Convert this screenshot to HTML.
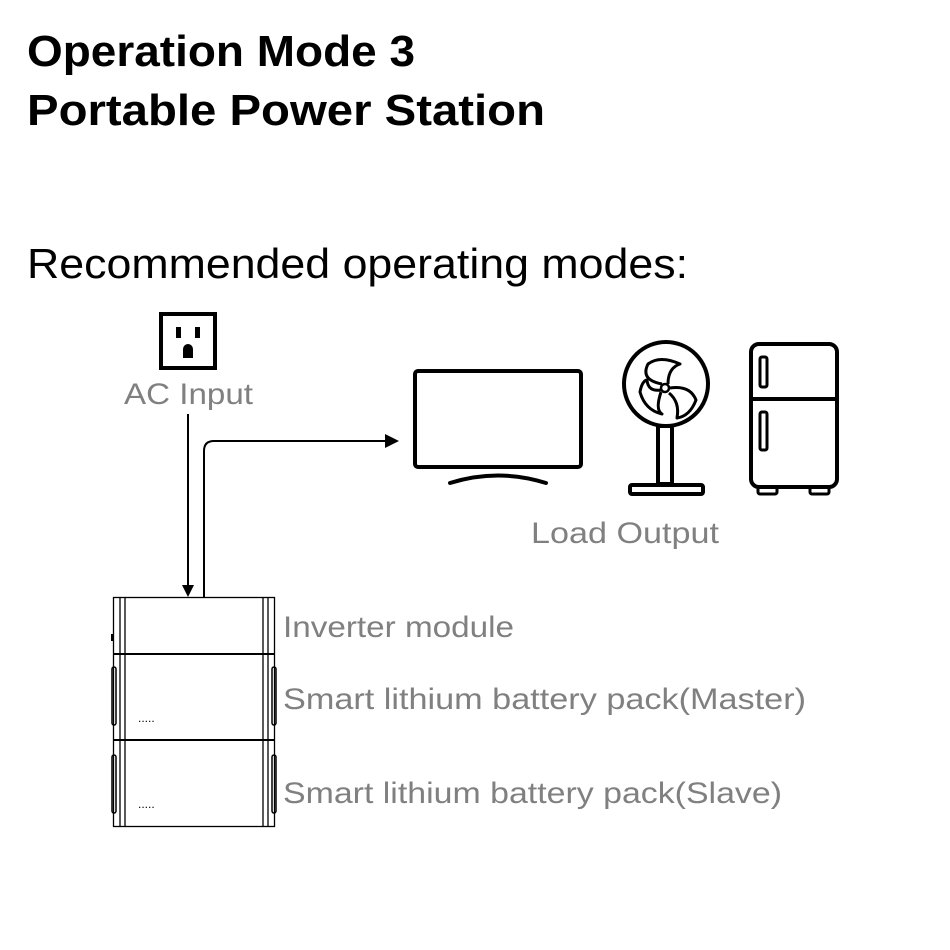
<!DOCTYPE html>
<html><head><meta charset="utf-8"><style>
html,body{margin:0;padding:0;background:#fff;}
svg{display:block;}
</style></head><body>
<svg width="950" height="950" viewBox="0 0 950 950" xmlns="http://www.w3.org/2000/svg">
<rect width="950" height="950" fill="#fff"/>
<g font-family="Liberation Sans, sans-serif">
<text x="27" y="66" font-size="44" font-weight="bold" textLength="388" lengthAdjust="spacingAndGlyphs" fill="#000">Operation Mode 3</text>
<text x="27" y="125" font-size="44" font-weight="bold" textLength="518" lengthAdjust="spacingAndGlyphs" fill="#000">Portable Power Station</text>
<text x="27" y="278" font-size="42" textLength="661" lengthAdjust="spacingAndGlyphs" fill="#000">Recommended operating modes:</text>
<g fill="#808080" font-size="30">
<text x="124" y="404" textLength="129" lengthAdjust="spacingAndGlyphs">AC Input</text>
<text x="531" y="543" textLength="188" lengthAdjust="spacingAndGlyphs">Load Output</text>
<text x="283" y="637" textLength="231" lengthAdjust="spacingAndGlyphs">Inverter module</text>
<text x="283" y="709" textLength="523" lengthAdjust="spacingAndGlyphs">Smart lithium battery pack(Master)</text>
<text x="283" y="803" textLength="499" lengthAdjust="spacingAndGlyphs">Smart lithium battery pack(Slave)</text>
</g>
</g>
<!-- socket -->
<rect x="161" y="314" width="54" height="54" fill="none" stroke="#000" stroke-width="4"/>
<rect x="176" y="327" width="5" height="11" fill="#000"/>
<rect x="195" y="327" width="5" height="11" fill="#000"/>
<path d="M183 358 V349 A5 5 0 0 1 193 349 V358 Z" fill="#000"/>
<!-- connectors -->
<line x1="188" y1="414" x2="188" y2="585" stroke="#000" stroke-width="2"/>
<polygon points="182,585 194,585 188,597" fill="#000"/>
<path d="M204 597 V451 Q204 441 214 441 H386" fill="none" stroke="#000" stroke-width="2"/>
<polygon points="385,434 399,441 385,448" fill="#000"/>
<!-- TV -->
<rect x="415" y="371" width="166" height="96" rx="3" fill="none" stroke="#000" stroke-width="4"/>
<path d="M450 483 Q498 468 546 483" fill="none" stroke="#000" stroke-width="4" stroke-linecap="round"/>
<!-- fan -->
<circle cx="666" cy="384" r="42" fill="none" stroke="#000" stroke-width="4"/>
<circle cx="665" cy="388" r="4" fill="none" stroke="#000" stroke-width="2.5"/>
<path d="M662 384 Q640 380 648 364 Q660 355 680 364 Q668 368 668 384" fill="none" stroke="#000" stroke-width="3" stroke-linejoin="round"/>
<path d="M670 388 Q690 385 696 400 Q690 416 677 418 Q680 402 669 393" fill="none" stroke="#000" stroke-width="3" stroke-linejoin="round"/>
<path d="M661 392 Q655 410 662 414 Q645 410 640 392 Q642 381 647 380 Q648 392 661 390" fill="none" stroke="#000" stroke-width="3" stroke-linejoin="round"/>
<rect x="658" y="426" width="14" height="58" fill="none" stroke="#000" stroke-width="4"/>
<rect x="630" y="485" width="73" height="9" rx="2" fill="none" stroke="#000" stroke-width="4"/>
<!-- fridge -->
<rect x="751" y="344" width="86" height="143" rx="8" fill="none" stroke="#000" stroke-width="4"/>
<line x1="751" y1="399" x2="837" y2="399" stroke="#000" stroke-width="4"/>
<rect x="760" y="357" width="7" height="30" rx="2" fill="none" stroke="#000" stroke-width="3"/>
<rect x="760" y="412" width="7" height="38" rx="2" fill="none" stroke="#000" stroke-width="3"/>
<rect x="758" y="487" width="19" height="7" rx="2" fill="none" stroke="#000" stroke-width="3"/>
<rect x="810" y="487" width="19" height="7" rx="2" fill="none" stroke="#000" stroke-width="3"/>
<!-- stack -->
<g fill="none" stroke="#000" stroke-width="1.3">
<rect x="113.5" y="597.5" width="161" height="229"/>
<line x1="113" y1="654" x2="275" y2="654" stroke-width="2"/>
<line x1="113" y1="740" x2="275" y2="740" stroke-width="2"/>
<line x1="120" y1="597" x2="120" y2="827"/>
<line x1="125" y1="597" x2="125" y2="827"/>
<line x1="263" y1="597" x2="263" y2="827"/>
<line x1="268" y1="597" x2="268" y2="827"/>
<rect x="112" y="667" width="4" height="58" rx="2" stroke-width="1.5"/>
<rect x="112" y="755" width="4" height="58" rx="2" stroke-width="1.5"/>
<rect x="272" y="667" width="4" height="58" rx="2" stroke-width="1.5"/>
<rect x="272" y="755" width="4" height="58" rx="2" stroke-width="1.5"/>
</g>
<rect x="111" y="634" width="3" height="7" fill="#000"/>
<text x="138" y="722" font-family="Liberation Sans, sans-serif" font-size="12" fill="#000">.....</text>
<text x="138" y="808" font-family="Liberation Sans, sans-serif" font-size="12" fill="#000">.....</text>
</svg>
</body></html>
